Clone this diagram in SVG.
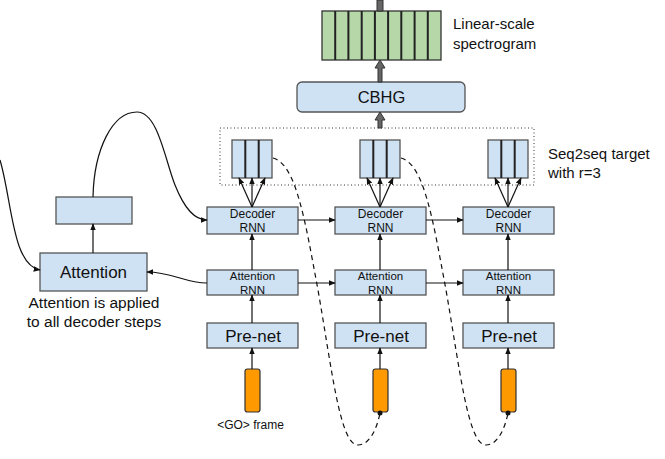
<svg xmlns="http://www.w3.org/2000/svg" width="665" height="459" viewBox="0 0 665 459">
<style>
.b{fill:#cfe2f3;stroke:#555;stroke-width:1.3}
.g{fill:#b6d7a8;stroke:#333;stroke-width:1.3}
.o{fill:#ff9900;stroke:#333;stroke-width:1.2}
.div{stroke:#222;stroke-width:2}
.c{fill:none;stroke:#111;stroke-width:1.2}
.d{fill:none;stroke:#111;stroke-width:1.2;stroke-dasharray:5,4}
.ga{fill:#666;stroke:#333;stroke-width:1}
text{font-family:"Liberation Sans",Arial,sans-serif;fill:#111}
.t{font-size:15px}
.s{font-size:12px;text-anchor:middle}
.s2{font-size:11.5px;text-anchor:middle}
.m{font-size:17px;text-anchor:middle}
</style>
<defs>
<marker id="a" viewBox="0 0 10 10" refX="9" refY="5" markerWidth="7" markerHeight="7" markerUnits="userSpaceOnUse" orient="auto">
<path d="M0,1 L10,5 L0,9 z" fill="#111"/>
</marker>
</defs>

<g id="spectrogram">
<rect class="g" x="322" y="11" width="119" height="49"/>
<g class="div" stroke-width="1.3">
<line x1="335.2" y1="11" x2="335.2" y2="60"/><line x1="348.4" y1="11" x2="348.4" y2="60"/>
<line x1="361.7" y1="11" x2="361.7" y2="60"/><line x1="374.9" y1="11" x2="374.9" y2="60"/>
<line x1="388.1" y1="11" x2="388.1" y2="60"/><line x1="401.3" y1="11" x2="401.3" y2="60"/>
<line x1="414.6" y1="11" x2="414.6" y2="60"/><line x1="427.8" y1="11" x2="427.8" y2="60"/>
</g>
<text class="t" x="453" y="29">Linear-scale</text>
<text class="t" x="453" y="49">spectrogram</text>
</g>

<g id="cbhg">
<rect class="b" x="297" y="82" width="168" height="30" rx="5"/>
<text x="381.5" y="103" font-size="16.5" text-anchor="middle">CBHG</text>
</g>

<g id="seq2seq-target">
<rect x="220" y="128" width="314" height="57" fill="none" stroke="#333" stroke-width="1" stroke-dasharray="1,2.5"/>
<text class="t" x="548" y="159">Seq2seq target</text>
<text class="t" x="548" y="178">with r=3</text>
</g>

<g id="frames1"><rect class="b" x="232" y="140" width="40" height="38"/><line class="div" x1="245.3" y1="140" x2="245.3" y2="178"/><line class="div" x1="258.7" y1="140" x2="258.7" y2="178"/></g>
<g id="frames2"><rect class="b" x="360" y="140" width="40" height="38"/><line class="div" x1="373.3" y1="140" x2="373.3" y2="178"/><line class="div" x1="386.7" y1="140" x2="386.7" y2="178"/></g>
<g id="frames3"><rect class="b" x="488" y="140" width="40" height="38"/><line class="div" x1="501.3" y1="140" x2="501.3" y2="178"/><line class="div" x1="514.7" y1="140" x2="514.7" y2="178"/></g>

<g id="decoder1"><rect class="b" x="207" y="207" width="91" height="27"/><text class="s" x="252.5" y="217.5">Decoder</text><text class="s" x="252.5" y="231.5">RNN</text></g>
<g id="decoder2"><rect class="b" x="335" y="207" width="91" height="27"/><text class="s" x="380.5" y="217.5">Decoder</text><text class="s" x="380.5" y="231.5">RNN</text></g>
<g id="decoder3"><rect class="b" x="463" y="207" width="91" height="27"/><text class="s" x="508.5" y="217.5">Decoder</text><text class="s" x="508.5" y="231.5">RNN</text></g>

<g id="attnrnn1"><rect class="b" x="207" y="270" width="91" height="25"/><text class="s2" x="252.5" y="280">Attention</text><text class="s2" x="252.5" y="293.5">RNN</text></g>
<g id="attnrnn2"><rect class="b" x="335" y="270" width="91" height="25"/><text class="s2" x="380.5" y="280">Attention</text><text class="s2" x="380.5" y="293.5">RNN</text></g>
<g id="attnrnn3"><rect class="b" x="463" y="270" width="91" height="25"/><text class="s2" x="508.5" y="280">Attention</text><text class="s2" x="508.5" y="293.5">RNN</text></g>

<g id="prenet1"><rect class="b" x="207" y="323" width="91" height="25"/><text class="m" x="253" y="341.5">Pre-net</text></g>
<g id="prenet2"><rect class="b" x="335" y="323" width="91" height="25"/><text class="m" x="381" y="341.5">Pre-net</text></g>
<g id="prenet3"><rect class="b" x="463" y="323" width="91" height="25"/><text class="m" x="509" y="341.5">Pre-net</text></g>

<g id="go1"><rect class="o" x="245" y="369" width="15" height="43" rx="2.5"/><text x="250.5" y="429" font-size="12" text-anchor="middle">&lt;GO&gt; frame</text></g>
<g id="go2"><rect class="o" x="373" y="369" width="15" height="43" rx="2.5"/></g>
<g id="go3"><rect class="o" x="501" y="369" width="15" height="43" rx="2.5"/></g>

<g id="attention"><rect class="b" x="40" y="253" width="107" height="38"/><text x="93.5" y="278" font-size="17" text-anchor="middle">Attention</text>
<text x="94" y="308" font-size="15.5" text-anchor="middle">Attention is applied</text>
<text x="94" y="327" font-size="15.5" text-anchor="middle">to all decoder steps</text></g>
<g id="context"><rect class="b" x="56" y="197" width="76" height="27"/></g>

<g id="connectors">
<path class="ga" d="M377,0 L383,0 L383,11 L377,11 z"/>
<path class="ga" d="M378,82 L378,68 L375,68 L380,60 L385,68 L382,68 L382,82 z"/>
<path class="ga" d="M378,128 L378,120 L375,120 L380,112 L385,120 L382,120 L382,128 z"/>

<g class="c" marker-end="url(#a)">
<line x1="252" y1="207" x2="239" y2="178"/><line x1="252" y1="207" x2="252" y2="178"/><line x1="252" y1="207" x2="265" y2="178"/>
<line x1="380" y1="207" x2="367" y2="178"/><line x1="380" y1="207" x2="380" y2="178"/><line x1="380" y1="207" x2="393" y2="178"/>
<line x1="508" y1="207" x2="495" y2="178"/><line x1="508" y1="207" x2="508" y2="178"/><line x1="508" y1="207" x2="521" y2="178"/>
<line x1="252" y1="270" x2="252" y2="234"/><line x1="380" y1="270" x2="380" y2="234"/><line x1="508" y1="270" x2="508" y2="234"/>
<line x1="252" y1="323" x2="252" y2="295"/><line x1="380" y1="323" x2="380" y2="295"/><line x1="508" y1="323" x2="508" y2="295"/>
<line x1="252" y1="369" x2="252" y2="348"/><line x1="380" y1="369" x2="380" y2="348"/><line x1="508" y1="369" x2="508" y2="348"/>
<line x1="298" y1="220" x2="335" y2="220"/><line x1="426" y1="220" x2="463" y2="220"/>
<line x1="298" y1="283" x2="335" y2="283"/><line x1="426" y1="283" x2="463" y2="283"/>
<line x1="93" y1="253" x2="93" y2="224"/>
<path d="M207,283 C185,283 172,272 147,272"/>
<path d="M0,160 C12,200 12,265 40,270"/>
<path d="M93,197 C94,150 112,112 137,112 C158,112 165,160 175,185 C185,210 195,220 207,220"/>
</g>
<path class="d" d="M273,158 C296,164 305,220 318,290 C332,370 340,445 358,445 C370,445 377,428 380,413"/>
<path class="d" d="M401,158 C424,164 433,220 446,290 C460,370 468,445 486,445 C498,445 505,428 508,413"/>
<circle cx="380" cy="413" r="2.5" fill="#111"/>
<circle cx="508" cy="413" r="2.5" fill="#111"/>
</g>
</svg>
